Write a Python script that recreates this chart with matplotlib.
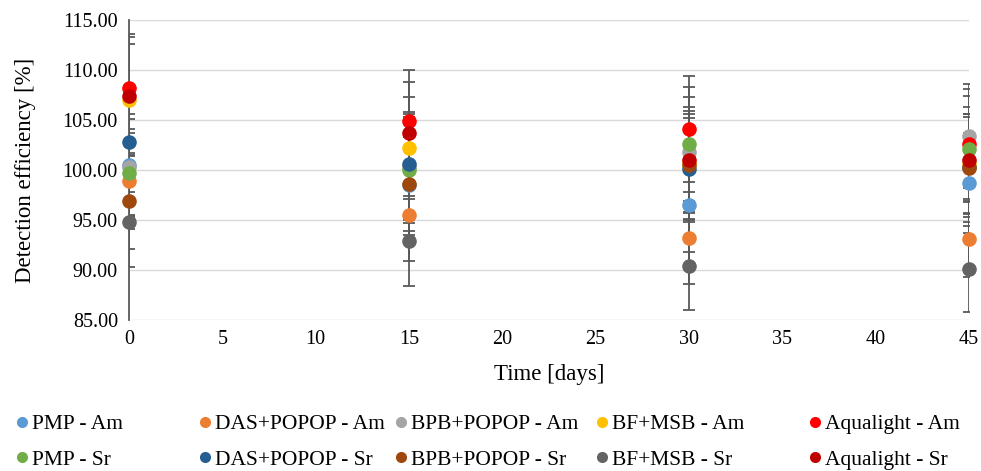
import matplotlib
matplotlib.use("Agg")
import matplotlib.pyplot as plt
from matplotlib.lines import Line2D

plt.rcParams['font.family'] = ['Liberation Serif', 'DejaVu Serif']

days = [0, 15, 30, 45]

labels = ["PMP - Am", "DAS+POPOP - Am", "BPB+POPOP - Am", "BF+MSB - Am", "Aqualight - Am",
          "PMP - Sr", "DAS+POPOP - Sr", "BPB+POPOP - Sr", "BF+MSB - Sr", "Aqualight - Sr"]
colors = ["#5B9BD5", "#ED7D31", "#A5A5A5", "#FFC000", "#FF0000",
          "#70AD47", "#255E91", "#9E480E", "#636363", "#C00000"]

pmp_am = [100.5, 98.5, 96.5, 98.7]
das_am = [98.9, 95.5, 93.2, 93.1]
bpb_am = [100.3, 100.3, 101.8, 103.4]
bf_am = [107.0, 102.2, 100.7, 100.6]
aqua_am = [108.2, 104.9, 104.1, 102.6]
pmp_sr = [99.7, 100.0, 102.6, 102.1]
das_sr = [102.8, 100.6, 100.1, 100.3]
bpb_sr = [96.9, 98.6, 100.5, 100.2]
bf_sr = [94.8, 92.9, 90.4, 90.1]
aqua_sr = [107.4, 103.7, 101.0, 101.0]

pmp_am_err = [5.1, 5.0, 4.7, 5.0]
das_am_err = [4.8, 4.6, 4.6, 3.8]
bpb_am_err = [4.8, 5.3, 5.5, 5.2]
bf_am_err = [5.6, 5.1, 4.9, 5.0]
aqua_am_err = [5.4, 5.1, 5.3, 5.5]
pmp_sr_err = [4.4, 5.3, 5.7, 5.3]
das_sr_err = [5.0, 5.2, 5.1, 5.0]
bpb_sr_err = [4.8, 4.7, 5.4, 5.4]
bf_sr_err = [4.5, 4.5, 4.4, 4.3]
aqua_sr_err = [5.9, 5.1, 5.3, 5.3]

values = [pmp_am, das_am, bpb_am, bf_am, aqua_am, pmp_sr, das_sr, bpb_sr, bf_sr, aqua_sr]
errors = [pmp_am_err, das_am_err, bpb_am_err, bf_am_err, aqua_am_err,
          pmp_sr_err, das_sr_err, bpb_sr_err, bf_sr_err, aqua_sr_err]

y_ticks = [85, 90, 95, 100, 105, 110, 115]
x_ticks = [0, 5, 10, 15, 20, 25, 30, 35, 40, 45]

fig = plt.figure(figsize=(9.81, 4.71), dpi=100)
ax = fig.add_axes([129 / 981, 1 - 320 / 471, 840 / 981, 300 / 471])

err_color = "#595959"
# error bars sit beneath every marker
for v, e in zip(values, errors):
    ax.errorbar(days, v, yerr=e, fmt='none', ecolor=err_color, elinewidth=1.3,
                capsize=4, capthick=1.3, zorder=3)
for i, (v, c) in enumerate(zip(values, colors)):
    ax.plot(days, v, 'o', color=c, markersize=10.5, markeredgewidth=0,
            zorder=4 + i, clip_on=False)

ax.set_xlim(0, 45)
ax.set_ylim(85, 115)
ax.set_xticks(x_ticks)
ax.set_yticks(y_ticks)
ax.set_yticklabels([f"{t:.2f}" for t in y_ticks])
ax.tick_params(axis='both', length=0, labelsize=14.5, colors="#000000")
ax.tick_params(axis='y', pad=8)
ax.tick_params(axis='x', pad=7)
ax.grid(axis='y', color="#D9D9D9", linewidth=1.0, zorder=0)
ax.set_axisbelow(True)
for side in ("top", "right", "bottom"):
    ax.spines[side].set_visible(False)
ax.spines["left"].set_color(err_color)
ax.spines["left"].set_linewidth(1.3)
ax.spines["left"].set_zorder(2)

ax.set_xlabel("Time [days]", fontsize=16.5, labelpad=11)
ax.set_ylabel("Detection efficiency [%]", fontsize=16.5, labelpad=19)

# Legend: five columns, each holding the Am entry above the Sr entry
col_x = [16, 199, 395, 596, 809]
for k, x0 in enumerate(col_x):
    handles = []
    for idx in (k, k + 5):
        handles.append(Line2D([], [], linestyle='none', marker='o', markersize=8,
                              markeredgewidth=0, color=colors[idx], label=labels[idx]))
    fig.legend(handles=handles, loc='upper left',
               bbox_to_anchor=(x0 / 981, 1 - 414 / 471), frameon=False,
               fontsize=15.5, handlelength=0.6, handletextpad=0.15,
               borderaxespad=0, borderpad=0, labelspacing=0.72)

fig.savefig("out.png", dpi=100)
